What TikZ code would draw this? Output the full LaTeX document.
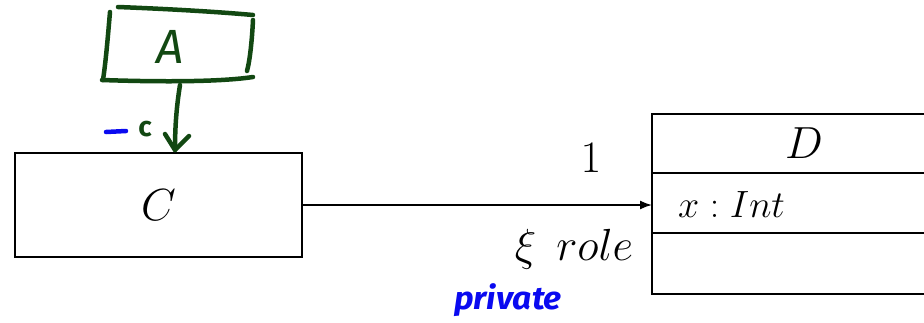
\documentclass[tikz,border=0pt]{standalone}
\usepackage{fix-cm}
\usepackage{fontspec}
\usetikzlibrary{arrows.meta}
\definecolor{pengreen}{RGB}{18,72,18}
\definecolor{penblue}{RGB}{10,10,240}
\tikzset{
  umlbox/.style={draw=black, line width=2pt},
  pen/.style={draw=pengreen, line width=4.5pt, line cap=round, line join=round},
  bluepen/.style={draw=penblue, line width=4.5pt, line cap=round, line join=round},
  assoc/.style={draw=black, line width=1.6pt, -{Latex[length=12pt,width=9pt]}},
  lbl/.style={inner sep=0pt, font=\fontsize{45}{52}\selectfont},
}
\begin{document}
\begin{tikzpicture}[x=1pt,y=-1pt]
\useasboundingbox (0,0) rectangle (924,322);
% class C
\node[umlbox, minimum width=287pt, minimum height=104pt, inner sep=0pt, anchor=north west] (C) at (14,152) {};
\node[lbl] (Ct) at (C.center) {$C$};
% class D (cut off at right edge)
\coordinate (Dnw) at (652,114);
\coordinate (Dsw) at (652,294);
\coordinate (Dr1) at (652,173);
\coordinate (Dr2) at (652,233);
\begin{scope}
\clip (0,0) rectangle (924,322);
\draw[umlbox] (940,114) -- (Dnw) -- (Dsw) -- (940,294);
\draw[umlbox] (Dr1) -- (940,173);
\draw[umlbox] (Dr2) -- (940,233);
\end{scope}
\node[lbl] (Dt) at (804,143) {$D$};
\node[inner sep=0pt, anchor=base west, font=\fontsize{38}{44}\selectfont] (Da) at (678,217) {$x : Int$};
\coordinate (Din) at (652,205);
% association
\draw[assoc] (C.east |- Din) -- (Din);
\node[lbl] (mult) at (591,158) {$1$};
\node[lbl, anchor=base] (role) at (574,260) {$\xi\hspace{0.45em}role$};
% handwritten annotations
\node[inner sep=0pt, text=pengreen, font=\fontspec{Fira Sans}\fontsize{48}{52}\selectfont\itshape] (A) at (170,47) {A};
\draw[pen] (118,7) .. controls (170,9) and (220,12) .. (253,15);
\draw[pen] (110,12) .. controls (108,35) and (106,60) .. (103,80);
\draw[pen] (102,80) .. controls (160,82) and (220,82) .. (253,77);
\draw[pen] (253,20) .. controls (252,40) and (250,60) .. (247,71);
\coordinate (Atail) at (180,85);
\coordinate (Chead) at (175,150);
\draw[pen] (Atail) .. controls (176,110) and (175,130) .. (Chead);
\draw[pen] (165,134) -- (Chead) -- (189,136);
\node[inner sep=0pt, text=pengreen, font=\fontspec{Fira Sans}\fontsize{28}{30}\selectfont\bfseries] (cvar) at (145,129) {c};
\draw[bluepen] (106,132) -- (126,131);
\node[inner sep=0pt, text=penblue, font=\fontspec{Fira Sans}\fontsize{32}{34}\selectfont\bfseries\itshape, xscale=1.05] (priv) at (508,300) {private};
\end{tikzpicture}
\end{document}
